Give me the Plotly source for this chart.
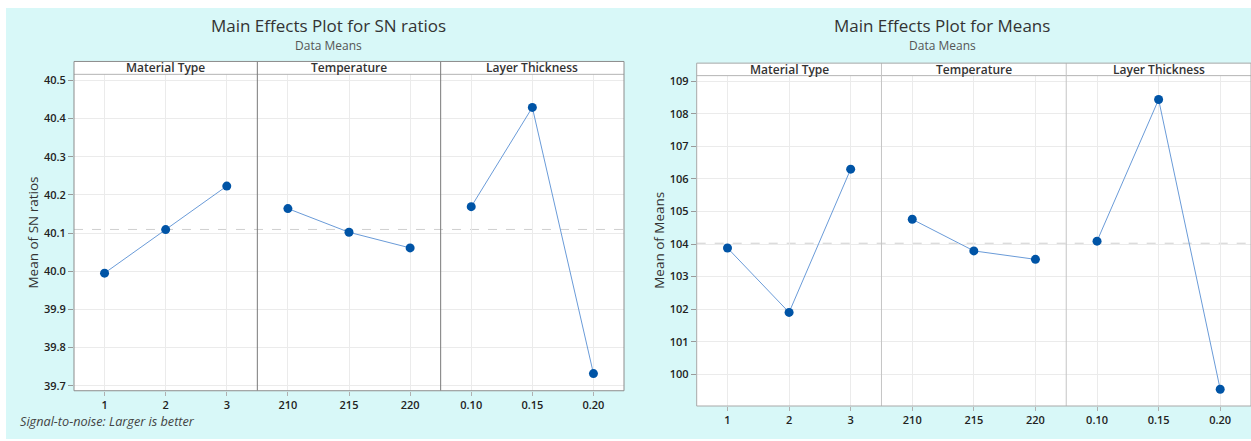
import numpy as np
import plotly.graph_objects as go

W, H = 1251, 441

# ---- data -------------------------------------------------------------
factors = ["Material Type", "Temperature", "Layer Thickness"]
levels_material = ["1", "2", "3"]
levels_temperature = ["210", "215", "220"]
levels_layer = ["0.10", "0.15", "0.20"]

sn_material = [39.995, 40.109, 40.223]
sn_temperature = [40.164, 40.102, 40.061]
sn_layer = [40.169, 40.429, 39.732]

means_material = [103.88, 101.90, 106.30]
means_temperature = [104.76, 103.79, 103.53]
means_layer = [104.09, 108.44, 99.54]

sn_ticks = [39.7, 39.8, 39.9, 40.0, 40.1, 40.2, 40.3, 40.4, 40.5]
means_ticks = [100, 101, 102, 103, 104, 105, 106, 107, 108, 109]

levels = [levels_material, levels_temperature, levels_layer]

# ---- styling ----------------------------------------------------------
BG = "#d8f8f8"
MARK = "#0054a6"
LINE = "#6a9bd8"
GRID = "#ebebeb"
FONT = "Open Sans"
TXT = "#333333"


def px(x):
    return x / W


def py(y):
    return 1 - y / H


charts = [
    dict(title="Main Effects Plot for SN ratios", ylabel="Mean of SN ratios",
         series=[sn_material, sn_temperature, sn_layer], ticks=sn_ticks,
         tickfmt=".1f", left=74, right=624, top=60, hdr=73, bottom=392.3,
         yr=[39.687, 40.5156], cx=328, ylab_x=33, frame="#8c8c8c",
         divider="#7a7a7a"),
    dict(title="Main Effects Plot for Means", ylabel="Mean of Means",
         series=[means_material, means_temperature, means_layer],
         ticks=means_ticks, tickfmt="d", left=696.7, right=1251, top=61.7,
         hdr=74.3, bottom=407.7, yr=[99.026, 109.173], cx=942, ylab_x=659,
         frame="#a8a8a8", divider="#c4c4c4"),
]

fig = go.Figure()
shapes = []
annotations = []
layout_axes = {}

# page background band
shapes.append(dict(type="rect", xref="paper", yref="paper",
                   x0=px(6), x1=1, y0=0, y1=py(6),
                   fillcolor=BG, line_width=0, layer="below"))

for c, ch in enumerate(charts):
    pw = (ch["right"] - ch["left"]) / 3
    edges = [ch["left"] + i * pw for i in range(4)]
    grand_mean = float(np.mean(np.concatenate([np.array(s) for s in ch["series"]])))

    # white plotting region
    shapes.append(dict(type="rect", xref="paper", yref="paper",
                       x0=px(ch["left"]), x1=px(ch["right"]),
                       y0=py(ch["bottom"]), y1=py(ch["top"]),
                       fillcolor="white", line_width=0, layer="below"))

    for p in range(3):
        n = c * 3 + p + 1
        xa = "xaxis" if n == 1 else f"xaxis{n}"
        ya = "yaxis" if n == 1 else f"yaxis{n}"
        layout_axes[xa] = dict(
            domain=[px(edges[p]), px(edges[p + 1])], anchor=f"y{n}",
            range=[-0.5, 2.5], tickvals=[0, 1, 2], ticktext=levels[p],
            showgrid=True, gridcolor=GRID, gridwidth=1, zeroline=False,
            showline=False, ticks="outside", ticklen=4, tickcolor="#b0b0b0",
            tickfont=dict(family=FONT, size=11, color="#222", weight=600),
            fixedrange=True)
        layout_axes[ya] = dict(
            domain=[py(ch["bottom"]), py(ch["hdr"])], anchor=f"x{n}",
            range=ch["yr"], tickvals=ch["ticks"], tickformat=ch["tickfmt"],
            showticklabels=(p == 0), ticks="outside" if p == 0 else "",
            ticklen=5, tickcolor="#9a9a9a",
            showgrid=True, gridcolor=GRID, gridwidth=1, zeroline=False,
            showline=False,
            tickfont=dict(family=FONT, size=11, color="#222", weight=600),
            fixedrange=True)

        fig.add_trace(go.Scatter(
            x=[0, 1, 2], y=ch["series"][p], mode="lines+markers",
            xaxis=f"x{n}", yaxis=f"y{n}",
            line=dict(color=LINE, width=1),
            marker=dict(color=MARK, size=9),
            showlegend=False, hoverinfo="skip"))

        # facet header label
        annotations.append(dict(
            xref="paper", yref="paper", x=px((edges[p] + edges[p + 1]) / 2),
            y=py((ch["top"] + ch["hdr"]) / 2), text=factors[p],
            showarrow=False, xanchor="center", yanchor="middle",
            font=dict(family=FONT, size=12, color=TXT, weight=600)))

    first_y = "y" if c == 0 else "y4"
    # grand-mean reference line
    shapes.append(dict(type="line", xref="paper", yref=first_y,
                       x0=px(ch["left"]), x1=px(ch["right"]),
                       y0=grand_mean, y1=grand_mean,
                       line=dict(color="#cfcfcf", width=1, dash="dash"),
                       layer="below"))
    # header strip
    shapes.append(dict(type="line", xref="paper", yref="paper",
                       x0=px(ch["left"]), x1=px(ch["right"]),
                       y0=py(ch["hdr"]), y1=py(ch["hdr"]),
                       line=dict(color="#b4b4b4", width=1)))
    # panel dividers
    for e in edges[1:3]:
        shapes.append(dict(type="line", xref="paper", yref="paper",
                           x0=px(e), x1=px(e), y0=py(ch["bottom"]), y1=py(ch["top"]),
                           line=dict(color=ch["divider"], width=1)))
    # outer frame
    shapes.append(dict(type="rect", xref="paper", yref="paper",
                       x0=px(ch["left"]), x1=px(ch["right"]),
                       y0=py(ch["bottom"]), y1=py(ch["top"]),
                       line=dict(color=ch["frame"], width=1)))

    # titles
    annotations.append(dict(xref="paper", yref="paper", x=px(ch["cx"]), y=py(24),
                            text=ch["title"], showarrow=False, xanchor="center",
                            yanchor="middle",
                            font=dict(family=FONT, size=17, color=TXT)))
    annotations.append(dict(xref="paper", yref="paper", x=px(ch["cx"]), y=py(44),
                            text="Data Means", showarrow=False, xanchor="center",
                            yanchor="middle",
                            font=dict(family=FONT, size=12, color="#555")))
    annotations.append(dict(xref="paper", yref="paper", x=px(ch["ylab_x"]),
                            y=py((ch["hdr"] + ch["bottom"]) / 2),
                            text=ch["ylabel"], showarrow=False, textangle=-90,
                            xanchor="center", yanchor="middle",
                            font=dict(family=FONT, size=13.5, color=TXT)))

annotations.append(dict(xref="paper", yref="paper", x=px(18), y=py(423),
                        text="<i>Signal-to-noise: Larger is better</i>",
                        showarrow=False, xanchor="left", yanchor="middle",
                        font=dict(family=FONT, size=12.7, color="#444")))

fig.update_layout(
    width=W, height=H, margin=dict(l=0, r=0, t=0, b=0),
    paper_bgcolor="white", plot_bgcolor="rgba(0,0,0,0)",
    shapes=shapes, annotations=annotations, showlegend=False,
    **layout_axes)

fig.write_html("out.html", config={"displayModeBar": False})
